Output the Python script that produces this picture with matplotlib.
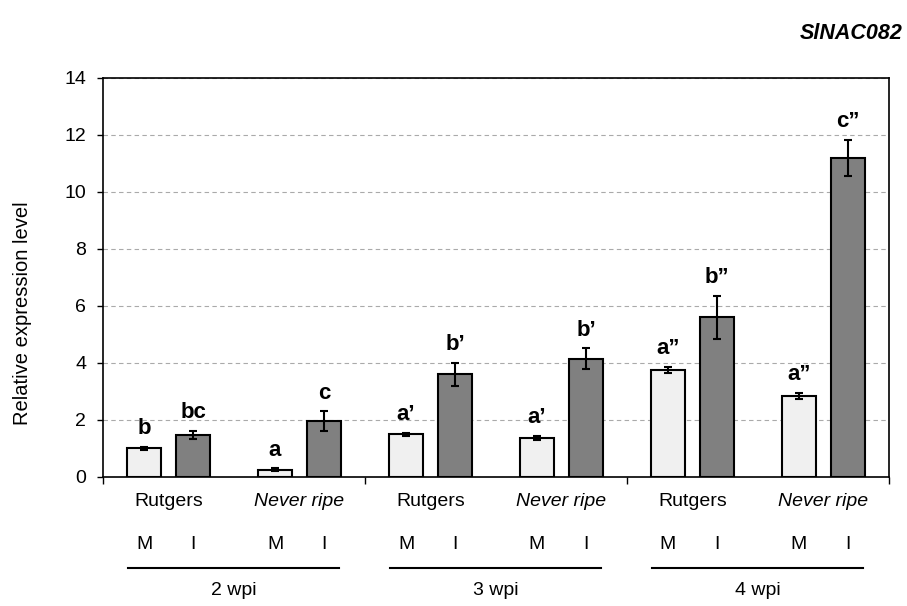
import matplotlib.pyplot as plt
import matplotlib.transforms as mtransforms
import numpy as np

plt.rcParams['font.family'] = ['Liberation Sans', 'DejaVu Sans']

weeks = ['2 wpi', '3 wpi', '4 wpi']
genotypes = ['Rutgers', 'Never ripe'] * 3
mock = [1.0, 0.25, 1.5, 1.37, 3.75, 2.85]
mock_err = [0.05, 0.05, 0.06, 0.06, 0.1, 0.1]
infected = [1.47, 1.95, 3.6, 4.15, 5.6, 11.2]
infected_err = [0.15, 0.35, 0.4, 0.36, 0.76, 0.63]
mock_letters = ['b', 'a', 'a\u2019', 'a\u2019', 'a\u201d', 'a\u201d']
infected_letters = ['bc', 'c', 'b\u2019', 'b\u2019', 'b\u201d', 'c\u201d']

fig = plt.figure(figsize=(9.07, 6.06), dpi=100)
ax = fig.add_axes([0.1136, 0.2129, 0.8665, 0.6584])

x = np.arange(len(genotypes))
off, w = 0.187, 0.26
ax.bar(x - off, mock, w, color='#f0f0f0', edgecolor='black', linewidth=1.5, zorder=3)
ax.bar(x + off, infected, w, color='#808080', edgecolor='black', linewidth=1.5, zorder=3)
ax.errorbar(x - off, mock, yerr=mock_err, fmt='none', ecolor='black', elinewidth=1.5,
            capsize=3, capthick=1.5, zorder=4)
ax.errorbar(x + off, infected, yerr=infected_err, fmt='none', ecolor='black', elinewidth=1.5,
            capsize=3, capthick=1.5, zorder=4)

for i in range(len(x)):
    ax.text(x[i] - off, mock[i] + mock_err[i] + 0.45, mock_letters[i], ha='center',
            va='baseline', fontsize=16, fontweight='bold')
    ax.text(x[i] + off, infected[i] + infected_err[i] + 0.45, infected_letters[i], ha='center',
            va='baseline', fontsize=16, fontweight='bold')

ax.set_xlim(-0.5, 5.5)
ax.set_ylim(0, 14)
ax.set_yticks(range(0, 15, 2))
ax.tick_params(axis='y', labelsize=14, direction='out', length=4, width=1, pad=8)
ax.set_xticks([-0.5, 1.5, 3.5, 5.5])
ax.set_xticklabels([])
ax.tick_params(axis='x', direction='out', length=5, width=1)
ax.yaxis.grid(True, linestyle=(0, (4, 3)), color='#aaaaaa', linewidth=0.8, zorder=0)
for s in ax.spines.values():
    s.set_linewidth(1.2)
ax.set_ylabel('Relative expression level', fontsize=14.5)
ax.yaxis.set_label_coords(-0.091, 0.41)

trans = mtransforms.blended_transform_factory(ax.transData, fig.transFigure)
for i, g in enumerate(genotypes):
    ax.text(x[i], 0.172, g, transform=trans, ha='center', va='center', fontsize=14,
            style='italic' if g == 'Never ripe' else 'normal')
    ax.text(x[i] - off, 0.101, 'M', transform=trans, ha='center', va='center', fontsize=14)
    ax.text(x[i] + off, 0.101, 'I', transform=trans, ha='center', va='center', fontsize=14)
for j, wk in enumerate(weeks):
    c = 2 * j + 0.5
    ax.plot([c - 0.81, c + 0.8], [0.062, 0.062], transform=trans, color='black',
            linewidth=1.5, clip_on=False)
    ax.text(c, 0.025, wk, transform=trans, ha='center', va='center', fontsize=14)

fig.text(0.995, 0.945, 'SlNAC082', ha='right', va='center', fontsize=15.5,
         fontweight='bold', style='italic')

fig.savefig('out.png', dpi=100)
